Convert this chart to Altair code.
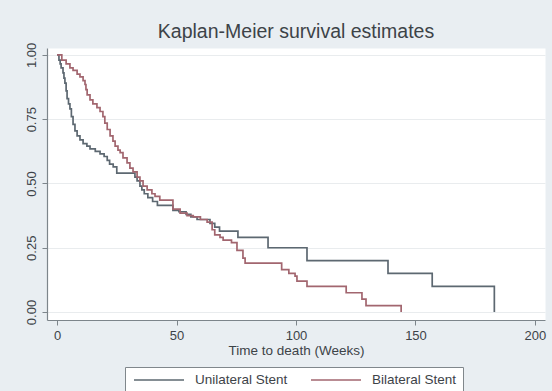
import altair as alt
import pandas as pd

# Kaplan-Meier step estimates: time (weeks) at which the survival changes, and the new value
uni_time = [0, 0.8, 1.3, 1.7, 2.5, 2.9, 3.3, 3.8, 4.2, 4.8, 5.4, 6.0, 6.7, 7.5, 8.4, 9.6,
            10.9, 12.5, 13.8, 16, 18, 19.7, 21, 22, 23.5, 25, 32.6, 33.5, 34.7, 35.5, 36.5,
            38, 40, 42, 48.5, 51, 54, 56, 58.6, 64, 66, 68, 75.7, 88.3, 104.6, 138.5, 157, 183]
uni_surv = [1.0, 0.98, 0.965, 0.95, 0.93, 0.91, 0.89, 0.86, 0.83, 0.81, 0.79, 0.76, 0.73, 0.705,
            0.685, 0.67, 0.655, 0.645, 0.635, 0.625, 0.615, 0.605, 0.59, 0.575, 0.565, 0.54,
            0.525, 0.51, 0.49, 0.475, 0.46, 0.445, 0.43, 0.415, 0.395, 0.39, 0.38, 0.37, 0.36,
            0.345, 0.33, 0.315, 0.29, 0.25, 0.20, 0.15, 0.10, 0.0]

bi_time = [0, 2, 3.8, 5.4, 6.7, 8.4, 9.6, 10.9, 11.7, 12.1, 12.6, 13.8, 15, 16.7, 18, 19.2,
           20, 21, 22.2, 23.4, 24.3, 25.5, 26.4, 27.6, 29.3, 30.5, 31.8, 33.5, 34.7, 36, 37.7,
           39.7, 41, 43, 48.5, 51.5, 54.4, 57, 60, 62.8, 64.9, 66, 68.2, 69.5, 73, 75.3, 77.8,
           78.7, 94, 97, 99.6, 100.4, 104.6, 121, 127.6, 129.3, 144]
bi_surv = [1.0, 0.98, 0.965, 0.95, 0.94, 0.925, 0.915, 0.90, 0.885, 0.865, 0.845, 0.825, 0.81,
           0.795, 0.78, 0.76, 0.735, 0.71, 0.685, 0.665, 0.645, 0.63, 0.62, 0.60, 0.58, 0.56,
           0.545, 0.525, 0.51, 0.49, 0.475, 0.46, 0.45, 0.435, 0.40, 0.385, 0.375, 0.37, 0.36,
           0.35, 0.32, 0.30, 0.29, 0.28, 0.27, 0.24, 0.21, 0.19, 0.165, 0.15, 0.14, 0.12, 0.10,
           0.075, 0.05, 0.025, 0.0]

groups = ["Unilateral Stent", "Bilateral Stent"]
colors = ["#5d6871", "#a2666f"]
x_ticks = [0, 50, 100, 150, 200]
y_ticks = [0.0, 0.25, 0.5, 0.75, 1.0]

df = pd.concat([
    pd.DataFrame({"time": uni_time, "surv": uni_surv, "group": groups[0]}),
    pd.DataFrame({"time": bi_time, "surv": bi_surv, "group": groups[1]}),
], ignore_index=True)

FONT = "Liberation Sans"
TEXT = "#3d4348"
AXIS = "#7d858b"

chart = alt.Chart(df).mark_line(interpolate="step-after", strokeWidth=1.7).encode(
    x=alt.X("time:Q",
            scale=alt.Scale(domain=[-4.2, 204.2], nice=False, zero=False),
            axis=alt.Axis(values=x_ticks, grid=False, format="d",
                          title="Time to death (Weeks)", titleFontSize=13.5,
                          titleFontWeight="normal", titlePadding=1,
                          labelFontSize=13, labelPadding=4, tickSize=5)),
    y=alt.Y("surv:Q",
            scale=alt.Scale(domain=[-0.031, 1.027], nice=False, zero=False),
            axis=alt.Axis(values=y_ticks, format=".2f", title=None, grid=True,
                          gridColor="#e9ecee", labelAngle=-90, labelAlign="center",
                          labelBaseline="bottom", labelFontSize=13, labelPadding=4,
                          tickSize=5)),
    stroke=alt.Stroke("group:N",
                      scale=alt.Scale(domain=groups, range=colors),
                      legend=alt.Legend(title=None, orient="none", legendX=78, legendY=319,
                                        direction="horizontal", symbolType="stroke",
                                        symbolSize=2500, symbolStrokeWidth=1.7,
                                        clipHeight=14,
                                        symbolOffset=2, labelFontSize=13.5, labelOffset=10,
                                        columnPadding=20, padding=6, fillColor="white",
                                        strokeColor="#80878c", labelColor=TEXT,
                                        labelFont=FONT)),
    order=alt.Order("time:Q"),
).properties(
    width=498,
    height=272,
    title=alt.TitleParams("Kaplan-Meier survival estimates", fontSize=19.5,
                          fontWeight="normal", font=FONT, color=TEXT, anchor="middle",
                          offset=0),
    autosize=alt.AutoSizeParams(type="none"),
    padding={"left": 47, "top": 48, "right": 7, "bottom": 71},
    background="#e9eef2",
).configure_view(
    fill="white", stroke="transparent"
).configure_axis(
    labelFont=FONT, titleFont=FONT, labelColor=TEXT, titleColor=TEXT,
    domainColor=AXIS, tickColor=AXIS, domainWidth=1.2
)

chart.save("out.html", embed_options={"renderer": "svg", "actions": False})
